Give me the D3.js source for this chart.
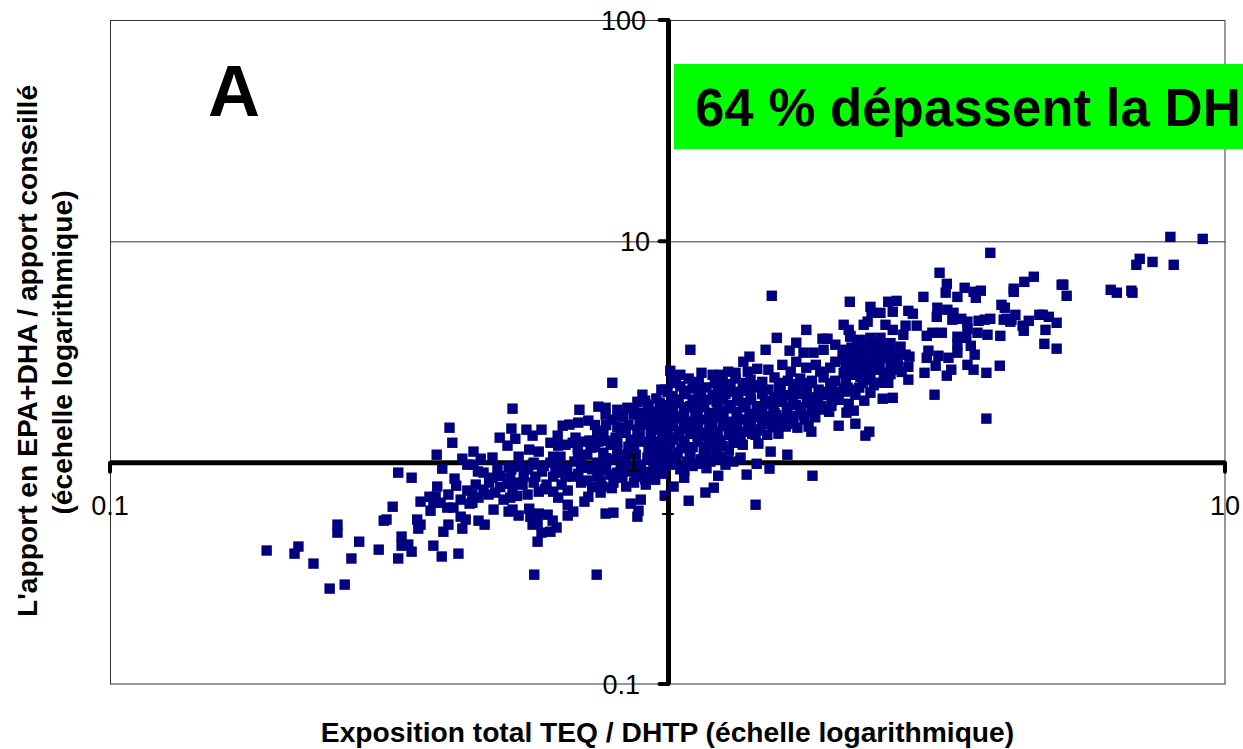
<!DOCTYPE html>
<html><head><meta charset="utf-8">
<script src="https://cdn.jsdelivr.net/npm/d3@7"></script>
<style>html,body{margin:0;padding:0;background:#fff}svg{display:block}text{font-family:"Liberation Sans",Arial,sans-serif;fill:#000}</style>
</head><body><svg id="c" width="1243" height="749"></svg>
<script>
// Values as [log10(exposure), log10(intake)]
const lowTail=[[-.391,.158],[-.386,.09],[-.414,.036],[-.368,.018],[-.348,.05],[-.359,-.009],[-.483,-.045],[-.459,-.068],[-.404,-.027],[-.382,-.072],[-.379,-.104],[-.413,-.108],[-.393,-.144],[-.359,-.126],[-.371,-.167],[-.427,-.154],[-.416,-.154],[-.443,-.176],[-.42,-.181],[-.407,-.181],[-.395,-.203],[-.384,-.203],[-.355,-.185],[-.425,-.217],[-.493,-.199],[-.504,-.257],[-.509,-.262],[-.449,-.257],[-.443,-.28],[-.447,-.298],[-.393,-.28],[-.402,-.312],[-.371,-.244],[-.362,-.257],[-.368,-.298],[-.592,-.28],[-.592,-.316],[-.553,-.357],[-.477,-.334],[-.465,-.37],[-.477,-.375],[-.459,-.402],[-.42,-.375],[-.518,-.393],[-.483,-.433],[-.405,-.424],[-.375,-.411],[-.567,-.433],[-.719,-.397],[-.662,-.379],[-.669,-.411],[-.635,-.456],[-.579,-.551],[-.606,-.569]];
const midLeft=[[-.099,.361],[-.011,.33],[-.278,.244],[-.158,.239],[-.045,.307],[-.124,.253],[-.111,.248],[-.054,.275],[-.034,.262],[-.014,.271],[-.09,.239],[-.072,.248],[-.111,.217],[-.142,.19],[-.16,.181],[-.176,.172],[-.188,.167],[-.28,.154],[-.253,.149],[-.226,.149],[-.301,.113],[-.273,.108],[-.242,.122],[-.197,.122],[-.165,.113],[-.151,.095],[-.126,.14],[-.115,.144],[-.099,.194],[-.081,.208],[-.061,.217],[-.043,.226],[-.025,.23],[-.009,.217],[-.287,.077],[-.335,.018],[-.314,.023],[-.267,.027],[-.248,.059],[-.231,.05],[-.205,.027],[-.196,.077],[-.183,.081],[-.192,.027],[-.161,.059],[-.144,.036],[-.124,.095],[-.111,.099],[-.093,.113],[-.075,.135],[-.054,.149],[-.039,.172],[-.025,.185],[-.009,.163],[-.115,.045],[-.09,.059],[-.07,.072],[-.048,.095],[-.03,.117],[-.013,.095],[-.348,-.009],[-.305,-.027],[-.285,-.018],[-.264,-.018],[-.242,-.009],[-.222,-.014],[-.201,-.018],[-.187,-.023],[-.167,.005],[-.169,-.063],[-.144,-.023],[-.126,0],[-.102,.014],[-.084,-.023],[-.061,-.023],[-.036,-.041],[-.057,-.063],[-.018,.023],[-.004,-.018],[-.036,.023]];
const midLeftLower=[[-.33,-.045],[-.314,-.068],[-.282,-.068],[-.258,-.063],[-.237,-.063],[-.205,-.063],[-.183,-.063],[-.144,-.081],[-.126,-.063],[-.097,-.09],[-.074,-.108],[-.117,-.108],[-.344,-.099],[-.33,-.122],[-.309,-.135],[-.287,-.095],[-.278,-.122],[-.26,-.099],[-.251,-.144],[-.231,-.131],[-.217,-.099],[-.205,-.131],[-.19,-.099],[-.179,-.126],[-.196,-.158],[-.35,-.144],[-.339,-.158],[-.321,-.144],[-.294,-.167],[-.282,-.158],[-.35,-.181],[-.142,-.154],[-.12,-.135],[-.149,-.176],[-.048,-.167],[-.066,-.185],[-.005,-.149],[-.179,-.19],[-.312,-.212],[-.339,-.262],[-.328,-.28],[-.285,-.221],[-.278,-.212],[-.267,-.239],[-.248,-.208],[-.231,-.23],[-.215,-.235],[-.246,-.244],[-.206,-.262],[-.242,-.28],[-.233,-.271],[-.199,-.293],[-.21,-.312],[-.226,-.316],[-.233,-.357],[-.169,-.221],[-.179,-.239],[-.111,-.23],[-.097,-.226],[-.052,-.217],[-.054,-.244],[-.239,-.506],[-.127,-.506],[-.102,.081],[-.081,.036],[-.057,.036],[-.034,.068],[-.022,-.032],[-.048,-.009],[-.075,.005],[-.12,-.032],[-.102,-.054],[-.081,-.068],[-.022,-.077],[-.039,-.099],[-.138,.068],[-.066,.104],[-.084,.158],[-.022,.149],[-.048,.194]];
const midLeftFill=[[-.21,.09],[-.17,.09],[-.14,.1],[-.09,.09],[-.06,.08],[-.03,.08],[-.015,.06],[-.13,.07],[-.16,.03],[-.11,.02],[-.09,.03],[-.07,.04],[-.03,.04],[-.01,.03],[-.24,0],[-.21,0],[-.18,-.03],[-.155,-.01],[-.135,-.03],[-.11,-.03],[-.09,-.045],[-.07,-.04],[-.05,-.03],[-.025,-.01],[-.01,-.05],[-.225,-.04],[-.195,-.045],[-.16,-.05],[-.12,-.08],[-.155,-.09],[-.135,-.11],[-.1,-.115],[-.04,-.075],[-.06,-.09],[-.3,-.06],[-.27,-.09],[-.24,-.09],[-.22,-.12],[-.32,-.09],[-.3,-.11],[-.27,-.15],[-.34,-.04],[-.25,-.03],[-.28,-.03],[-.05,.13],[-.03,.15],[-.01,.13],[-.07,.17],[-.09,.16],[-.11,.17],[-.05,.19],[-.03,.21],[-.01,.24],[-.035,.24],[-.06,.24],[-.13,.17],[-.02,.29],[-.04,.28],[-.08,.21]];
const centralBlob=[[.009,.37],[.038,.38],[.056,.365],[.099,.37],[.122,.38],[.149,.375],[.17,.365],[.192,.385],[.216,.37],[.238,.38],[.259,.37],[.28,.385],[.301,.37],[-.004,.33],[.023,.345],[.045,.335],[.07,.34],[.092,.33],[.113,.345],[.135,.335],[.158,.34],[.181,.33],[.203,.345],[.226,.335],[.248,.34],[.271,.33],[.292,.345],[.316,.335],[.009,.3],[.032,.31],[.056,.295],[.081,.305],[.104,.31],[.127,.295],[.149,.305],[.17,.31],[.192,.295],[.216,.305],[.238,.31],[.259,.295],[.282,.305],[.305,.3],[-.005,.26],[.02,.27],[.041,.255],[.066,.265],[.088,.275],[.113,.26],[.136,.27],[.16,.255],[.181,.265],[.206,.275],[.23,.26],[.253,.27],[.275,.255],[.005,.235],[.03,.225],[.054,.24],[.077,.225],[.1,.235],[.124,.23],[.147,.22],[.17,.235],[.192,.225],[.214,.24],[.238,.225],[.259,.23],[.278,.24],[-.009,.19],[.016,.2],[.041,.185],[.065,.195],[.088,.205],[.11,.185],[.135,.195],[.158,.205],[.181,.19],[.203,.2],[.226,.185],[.246,.195],[.005,.165],[.029,.15],[.052,.16],[.075,.15],[.099,.165],[.122,.155],[.145,.165],[.167,.15],[.188,.16],[-.007,.125],[.018,.115],[.041,.13],[.063,.12],[.086,.11],[.11,.125],[.131,.115],[.152,.13],[.005,.09],[.03,.08],[.054,.095],[.077,.085],[.099,.075],[.118,.09],[-.007,.055],[.018,.045],[.041,.06],[.065,.05],[.088,.04],[.11,.055],[.009,.02],[.034,.005],[.059,.015],[.086,.02],[.108,.01],[-.005,-.02],[.023,-.03],[.045,-.015],[.07,-.025],[.266,.442],[.292,.429],[.319,.411]];
const centralFill=[[.015,.36],[.05,.355],[.085,.36],[.11,.355],[.14,.36],[.165,.35],[.2,.36],[.23,.355],[.255,.36],[.295,.36],[.32,.36],[0,.32],[.03,.325],[.06,.32],[.09,.32],[.12,.32],[.145,.325],[.17,.32],[.2,.325],[.225,.32],[.25,.315],[.275,.32],[.3,.32],[.33,.33],[.015,.285],[.045,.285],[.07,.285],[.1,.285],[.125,.28],[.15,.285],[.175,.28],[.2,.29],[.225,.285],[.25,.29],[.27,.285],[.295,.28],[.01,.245],[.035,.25],[.06,.25],[.09,.25],[.11,.245],[.14,.25],[.165,.25],[.19,.25],[.215,.25],[.24,.25],[.265,.25],[.29,.23],[0,.215],[.025,.21],[.05,.21],[.075,.21],[.1,.21],[.125,.21],[.15,.21],[.175,.21],[.195,.215],[.22,.21],[.245,.215],[.265,.205],[.01,.18],[.03,.175],[.055,.175],[.08,.18],[.105,.175],[.125,.175],[.15,.18],[.17,.175],[.195,.175],[.215,.175],[0,.145],[.02,.14],[.045,.145],[.07,.135],[.09,.14],[.115,.14],[.135,.14],[.16,.145],[.01,.105],[.03,.1],[.055,.105],[.075,.105],[.095,.1],[.12,.1],[0,.07],[.025,.065],[.045,.07],[.07,.07],[.09,.06],[.015,.03],[.04,.03],[.07,.035],[.095,.025]];
const blobEdges=[[.187,.754],[.196,.564],[.249,.6],[.278,.56],[.287,.56],[.231,.542],[.176,.51],[.219,.506],[.041,.51],[.244,.497],[.262,.497],[.28,.51],[.314,.488],[.328,.569],[.341,.542],[.147,.479],[.136,.456],[.206,.442],[.231,.456],[.181,.42],[.161,.424],[.005,.415],[.023,.397],[.061,.406],[.081,.397],[.095,.397],[.109,.411],[.122,.406],[.144,.411],[.221,.411],[.249,.429],[.274,.411],[.301,.456],[.328,.474],[.343,.442],[.179,.126],[.199,.131],[.212,.163],[.233,.158],[.253,.163],[.258,.14],[.307,.167],[.337,.176],[.321,.226],[.325,.266],[.334,.235],[.294,.257],[.185,.05],[.215,.036],[.163,.086],[.158,.126],[.16,-.005],[.183,-.027],[.142,-.054],[.26,-.059],[.091,-.059],[.03,-.036],[.03,-.068],[.011,-.108],[.083,-.113],[.068,-.135],[.038,-.172],[.158,-.19],[.135,.081],[.131,.023],[.104,-.009],[.056,-.005],[.077,.005],[.118,.005],[.005,-.009],[.301,.533],[.319,.51],[.319,.321],[.307,.284],[.337,.307]];
const upperRight=[[.579,.948],[.488,.858],[.501,.808],[.499,.768],[.533,.79],[.52,.749],[.562,.777],[.549,.772],[.553,.745],[.459,.749],[.327,.727],[.411,.731],[.396,.727],[.364,.704],[.432,.686],[.44,.673],[.404,.682],[.382,.677],[.366,.677],[.359,.637],[.352,.623],[.316,.623],[.325,.6],[.328,.573],[.391,.623],[.404,.6],[.427,.619],[.447,.619],[.423,.578],[.484,.7],[.502,.691],[.513,.677],[.483,.659],[.511,.646],[.527,.65],[.538,.637],[.558,.641],[.569,.646],[.579,.65],[.599,.713],[.605,.7],[.603,.646],[.617,.646],[.624,.668],[.648,.641],[.637,.619],[.639,.596],[.621,.786],[.64,.817],[.657,.84],[.667,.668],[.538,.605],[.556,.587],[.574,.578],[.597,.573],[.465,.573],[.475,.587],[.492,.587],[.52,.569],[.536,.564],[.52,.533],[.544,.528],[.52,.497],[.551,.488],[.468,.506],[.486,.483],[.465,.474],[.504,.474],[.481,.438],[.461,.406],[.432,.433],[.432,.375],[.538,.442],[.549,.42],[.509,.42],[.501,.393],[.572,.406],[.596,.438],[.479,.307],[.404,.293],[.386,.289],[.572,.199],[.353,.28],[.344,.339],[.364,.316],[.323,.339],[.362,.14],[.355,.122]];
const upperBlob=[[.346,.555],[.364,.564],[.382,.564],[.352,.519],[.37,.524],[.388,.519],[.4,.51],[.418,.524],[.427,.488],[.334,.479],[.352,.474],[.37,.465],[.386,.474],[.405,.474],[.319,.465],[.334,.433],[.352,.429],[.37,.42],[.388,.406],[.409,.42],[.316,.406],[.334,.397],[.364,.375],[.382,.361],[.396,.361],[.346,.388],[.413,.451],[.434,.479],[.33,.52],[.35,.49],[.37,.5],[.39,.49],[.41,.49],[.36,.45],[.38,.44],[.4,.44],[.34,.41],[.36,.4],[.38,.43],[.4,.4],[.35,.36],[.37,.35],[.42,.41],[.32,.44],[.34,.5],[.36,.54],[.38,.54],[.4,.54],[.345,.45]];
const farRight=[[.902,1.02],[.96,1.011],[.847,.921],[.841,.894],[.87,.907],[.908,.894],[.795,.781],[.806,.768],[.832,.777],[.834,.768],[.707,.804],[.71,.804],[.716,.754],[.621,.772],[.608,.65],[.615,.637],[.673,.668],[.684,.659],[.698,.632],[.678,.6],[.676,.537],[.698,.515]];
const yTicks=[100,10,1,0.1];
const xTicks=[0.1,1,10];
const yTickLabels=["100","10","1","0.1"];
const xTickLabels=["0.1","1","10"];
const panelLetter="A";
const calloutText="64 % dépassent la DH";
const xTitle="Exposition total TEQ / DHTP (échelle logarithmique)";
const yTitleLines=["L'apport en EPA+DHA / apport conseillé","(écehelle logarithmique)"];

const points=[...lowTail,...midLeft,...midLeftLower,...midLeftFill,...centralBlob,...centralFill,...blobEdges,...upperRight,...upperBlob,...farRight];
const svg=d3.select("#c");
const x=d3.scaleLog().domain([0.1,10]).range([110,1225]);
const y=d3.scaleLog().domain([0.1,100]).range([684,20]);
const xOrigin=x(1)+1, yOrigin=y(1);

// plot frame and gridlines
svg.append("rect").attr("x",110.5).attr("y",20.5).attr("width",1114.5).attr("height",663.5).attr("fill","none").attr("stroke","#333").attr("stroke-width",1);
svg.append("line").attr("x1",110).attr("x2",1225).attr("y1",y(10)+.5).attr("y2",y(10)+.5).attr("stroke","#333").attr("stroke-width",1);

// heavy axes with rounded ticks
const heavy=svg.append("g").attr("stroke","#000").attr("fill","none").attr("stroke-linecap","round");
heavy.append("line").attr("x1",110).attr("x2",1225).attr("y1",yOrigin).attr("y2",yOrigin).attr("stroke-width",5).attr("stroke-linecap","butt");
heavy.append("line").attr("x1",xOrigin).attr("x2",xOrigin).attr("y1",20).attr("y2",684).attr("stroke-width",5).attr("stroke-linecap","butt");
heavy.selectAll(".xt").data(xTicks).join("line").attr("x1",d=>x(d)).attr("x2",d=>x(d)).attr("y1",yOrigin).attr("y2",yOrigin+9).attr("stroke-width",4);
heavy.selectAll(".yt").data(yTicks).join("line").attr("y1",d=>y(d)).attr("y2",d=>y(d)).attr("x1",xOrigin-9).attr("x2",xOrigin).attr("stroke-width",4);

// callout
svg.append("rect").attr("x",674).attr("y",64).attr("width",569).attr("height",85).attr("fill","#00ff00");
svg.append("text").attr("x",695).attr("y",126).attr("font-size",52.8).attr("font-weight","bold").text(calloutText);
svg.append("text").attr("x",208).attr("y",116).attr("font-size",72).attr("font-weight","bold").text(panelLetter);

// points
svg.append("g").attr("fill","#000080").selectAll("rect").data(points).join("rect")
 .attr("x",d=>x(10**d[0])-5.2).attr("y",d=>y(10**d[1])-5.2).attr("width",10.4).attr("height",10.4);

// tick labels above points
svg.append("g").attr("font-size",27).attr("text-anchor","end").selectAll("text").data(yTicks).join("text")
 .attr("x",(d,i)=>[646,650,641,640][i]).attr("y",d=>y(d)+9.5).text((d,i)=>yTickLabels[i]);
svg.append("g").attr("font-size",27).attr("text-anchor","middle").selectAll("text").data(xTicks).join("text")
 .attr("x",d=>x(d)).attr("y",515).text((d,i)=>xTickLabels[i]);

// titles
svg.append("text").attr("x",667.5).attr("y",742).attr("text-anchor","middle").attr("font-size",28.2).attr("font-weight","bold").text(xTitle);
const yt=svg.append("g").attr("font-size",28.2).attr("font-weight","bold").attr("text-anchor","middle");
yt.append("text").attr("transform","translate(37,351) rotate(-90)").text(yTitleLines[0]);
yt.append("text").attr("transform","translate(72,352.5) rotate(-90)").text(yTitleLines[1]);
</script></body></html>
